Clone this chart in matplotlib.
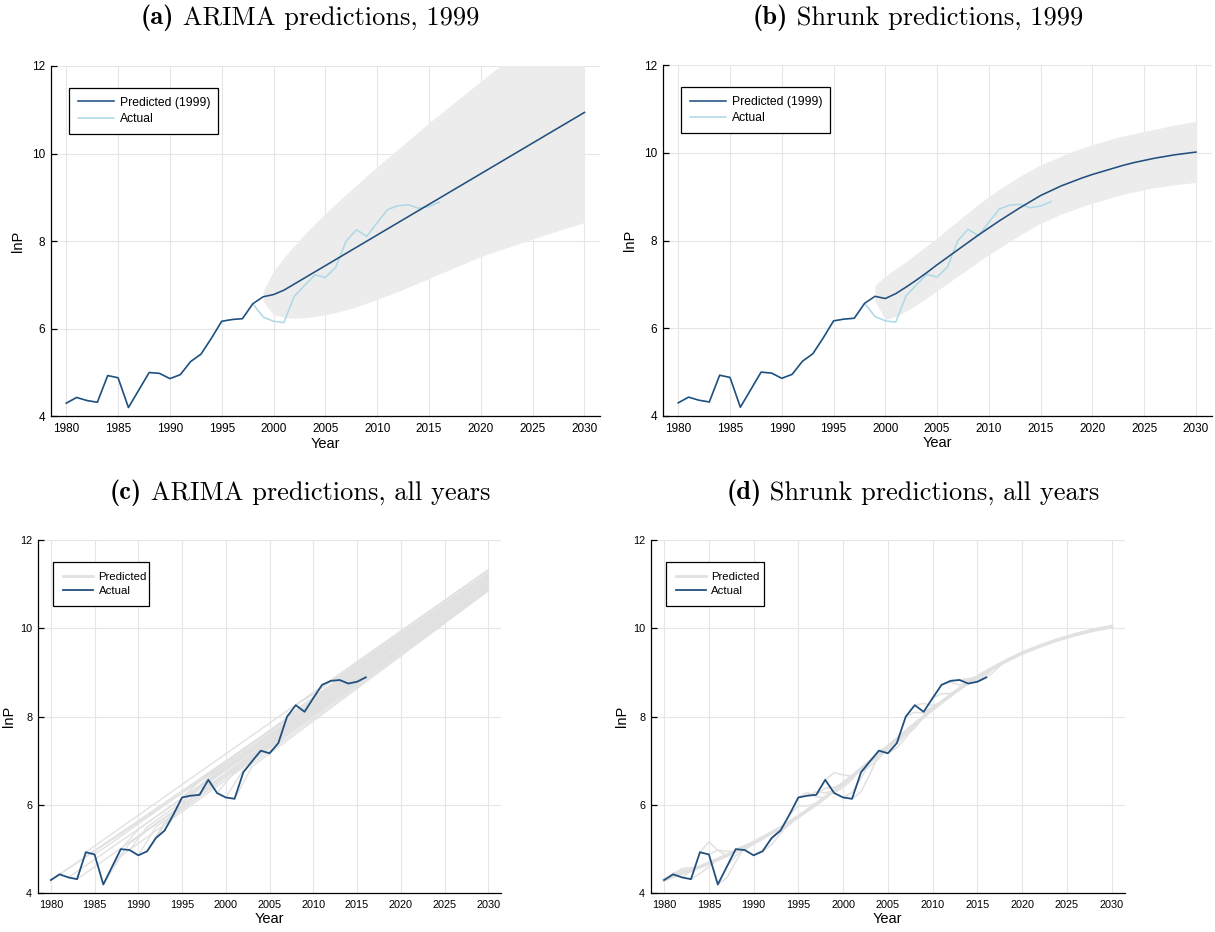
import matplotlib
matplotlib.use("Agg")
import matplotlib.pyplot as plt
import numpy as np

# ---------------------------------------------------------------------------
# Data (log population, lnP)
# ---------------------------------------------------------------------------

YEARS = np.arange(1980, 2017)
ACTUAL = [4.30, 4.43, 4.36, 4.32, 4.93, 4.88, 4.20, 4.60, 5.00, 4.98,
          4.86, 4.95, 5.25, 5.42, 5.78, 6.17, 6.21, 6.23, 6.57, 6.27,
          6.17, 6.14, 6.74, 6.99, 7.23, 7.17, 7.40, 8.00, 8.26, 8.11,
          8.42, 8.72, 8.81, 8.83, 8.75, 8.79, 8.89]

# forecasts made in 1999 (data through 1998)
FC_YEARS = np.arange(1999, 2031)
ARIMA_1999 = [6.73, 6.78, 6.88, 7.02, 7.16, 7.30, 7.44, 7.58, 7.72, 7.86,
              8.00, 8.14, 8.28, 8.42, 8.56, 8.70, 8.84, 8.98, 9.12, 9.26,
              9.40, 9.54, 9.68, 9.82, 9.96, 10.10, 10.24, 10.38, 10.52, 10.66,
              10.80, 10.94]
ARIMA_LO = [6.62, 6.32, 6.26, 6.24, 6.25, 6.28, 6.32, 6.37, 6.43, 6.50,
            6.58, 6.67, 6.76, 6.85, 6.95, 7.05, 7.15, 7.25, 7.35, 7.45,
            7.55, 7.65, 7.73, 7.81, 7.89, 7.97, 8.05, 8.13, 8.20, 8.28,
            8.35, 8.43]
ARIMA_HI = [6.86, 7.32, 7.62, 7.90, 8.16, 8.40, 8.63, 8.85, 9.07, 9.28,
            9.49, 9.70, 9.90, 10.10, 10.30, 10.50, 10.70, 10.89, 11.08, 11.27,
            11.46, 11.65, 11.84, 12.02, 12.21, 12.39, 12.58, 12.76, 12.94, 13.13,
            13.31, 13.49]

SHRUNK_1999 = [6.73, 6.68, 6.79, 6.94, 7.10, 7.27, 7.45, 7.62, 7.79, 7.96,
               8.13, 8.29, 8.45, 8.60, 8.75, 8.89, 9.03, 9.14, 9.25, 9.34,
               9.43, 9.51, 9.58, 9.65, 9.72, 9.78, 9.83, 9.88, 9.92, 9.96,
               9.99, 10.02]
SHRUNK_LO = [6.62, 6.20, 6.27, 6.39, 6.53, 6.69, 6.86, 7.02, 7.19, 7.35,
             7.52, 7.68, 7.83, 7.98, 8.13, 8.26, 8.40, 8.50, 8.61, 8.69,
             8.78, 8.86, 8.92, 8.99, 9.06, 9.11, 9.16, 9.21, 9.24, 9.28,
             9.30, 9.33]
SHRUNK_HI = [6.98, 7.19, 7.36, 7.52, 7.70, 7.88, 8.06, 8.26, 8.45, 8.64,
             8.83, 9.01, 9.17, 9.32, 9.47, 9.60, 9.73, 9.83, 9.93, 10.03,
             10.11, 10.19, 10.26, 10.33, 10.39, 10.44, 10.49, 10.54, 10.59, 10.64,
             10.68, 10.72]

# rolling forecasts, one per origin year
ORIGINS = np.arange(1981, 2017)
# ARIMA: value one year after the origin, and value reached in 2030
ARIMA_STEP = [4.56, 4.70, 4.63, 4.60, 5.21, 5.15, 4.84, 5.13, 5.45, 5.50,
              5.50, 5.61, 5.85, 6.00, 6.26, 6.53, 6.62, 6.69, 6.78, 6.75,
              6.79, 6.87, 7.20, 7.40, 7.60, 7.62, 7.81, 8.30, 8.51, 8.43,
              8.67, 8.90, 8.99, 9.02, 9.02, 9.11]
ARIMA_END = [10.86, 11.05, 10.95, 10.90, 11.33, 11.22, 10.88, 10.98, 11.12, 11.06,
             10.98, 10.96, 11.02, 11.03, 11.10, 11.18, 11.15, 11.10, 10.94, 10.90,
             10.86, 10.85, 10.92, 10.95, 11.00, 10.92, 10.95, 11.25, 11.30, 11.10,
             11.18, 11.25, 11.20, 11.10, 10.98, 10.95]

# Shrunk: first two forecast steps, then the common long-run path
SHRUNK_STEP1 = [4.45, 4.56, 4.50, 4.45, 5.17, 4.98, 4.35, 4.85, 5.08, 5.12,
                4.98, 5.10, 5.40, 5.60, 5.98, 6.28, 6.30, 6.38, 6.73, 6.40,
                6.28, 6.30, 6.88, 7.12, 7.33, 7.30, 7.58, 8.10, 8.30, 8.22,
                8.52, 8.78, 8.84, 8.86, 8.82, 8.88]
SHRUNK_STEP2 = [4.52, 4.58, 4.58, 4.60, 4.97, 4.95, 4.72, 5.00, 5.15, 5.22,
                5.22, 5.35, 5.55, 5.70, 5.98, 6.18, 6.27, 6.40, 6.68, 6.58,
                6.60, 6.70, 7.05, 7.24, 7.43, 7.52, 7.74, 8.08, 8.25, 8.30,
                8.52, 8.72, 8.82, 8.90, 8.95, 9.05]
PATH_YEARS = np.arange(1980, 2031)
SHRUNK_PATH = [4.30, 4.38, 4.46, 4.53, 4.60, 4.68, 4.77, 4.86, 4.95, 5.05,
               5.15, 5.26, 5.37, 5.48, 5.61, 5.74, 5.88, 6.02, 6.17, 6.33,
               6.49, 6.65, 6.82, 6.98, 7.15, 7.32, 7.49, 7.66, 7.83, 8.00,
               8.17, 8.33, 8.48, 8.63, 8.77, 8.90, 9.02, 9.13, 9.24, 9.34,
               9.44, 9.52, 9.60, 9.67, 9.74, 9.80, 9.86, 9.91, 9.96, 10.00,
               10.04]

DARK = "#22507e"
LIGHT = "#add8e6"
GREY = "#e1e1e1"
BAND = "#ececec"

W, H = 1215, 932

plt.rcParams["font.family"] = "Liberation Sans"


def style_axes(ax, tick_size, ylabelpad):
    ax.set_xlim(1978.5, 2031.5)
    ax.set_ylim(4, 12)
    ax.set_xticks(range(1980, 2031, 5))
    ax.set_yticks([4, 6, 8, 10, 12])
    ax.spines[["top", "right"]].set_visible(False)
    for side in ("left", "bottom"):
        ax.spines[side].set_linewidth(0.9)
    ax.tick_params(axis="y", direction="in", length=4, width=0.9,
                   labelsize=tick_size, pad=4)
    ax.tick_params(axis="x", length=0, labelsize=tick_size, pad=5)
    ax.grid(True, color="#e6e6e6", linewidth=0.8)
    ax.set_axisbelow(True)
    ax.set_xlabel("Year", fontsize=10.5, labelpad=1)
    ax.set_ylabel("lnP", fontsize=10.5, labelpad=ylabelpad)


def add_legend(ax, handles, labels, anchor, size, pad, hlen):
    leg = ax.legend(handles, labels, loc="upper left", bbox_to_anchor=anchor,
                    mode="expand", fontsize=size, fancybox=False, framealpha=1,
                    edgecolor="black", handlelength=hlen, handletextpad=0.5,
                    borderpad=pad, labelspacing=0.36, borderaxespad=0)
    leg.get_frame().set_linewidth(0.9)
    return leg


def plot_single_forecast(ax, pred, lo, hi):
    hist_n = 1999 - 1980
    ax.fill_between(FC_YEARS, lo, hi, color=BAND, linewidth=0, zorder=1)
    act, = ax.plot(YEARS, ACTUAL, color=LIGHT, linewidth=1.1, zorder=2)
    path_x = np.concatenate([YEARS[:hist_n], FC_YEARS])
    path_y = np.concatenate([ACTUAL[:hist_n], pred])
    pr, = ax.plot(path_x, path_y, color=DARK, linewidth=1.15, zorder=3)
    style_axes(ax, 8.5, 5)
    add_legend(ax, [pr, act], ["Predicted (1999)", "Actual"],
               (0.0328, 0.8078, 0.2713, 0.1305), 8.7, 0.75, 3.0)


def grey_legend(ax, grey, act, anchor):
    leg = add_legend(ax, [grey, act], ["Predicted", "Actual"], anchor, 8.2, 0.88, 2.6)
    leg.get_lines()[0].set_linewidth(2.0)


def plot_arima_all(ax):
    grey = None
    for i, k in enumerate(ORIGINS):
        i0 = k - 1 - 1980
        xs = [k - 1, k + 1, 2030]
        ys = [ACTUAL[i0], ARIMA_STEP[i], ARIMA_END[i]]
        grey, = ax.plot(xs, ys, color=GREY, linewidth=1.0, zorder=2)
    act, = ax.plot(YEARS, ACTUAL, color=DARK, linewidth=1.3, zorder=3)
    style_axes(ax, 7.8, 3)
    grey_legend(ax, grey, act, (0.0336, 0.8084, 0.2057, 0.1302))


def plot_shrunk_all(ax):
    grey = None
    for i, k in enumerate(ORIGINS):
        i0 = k - 1 - 1980
        tail = PATH_YEARS >= k + 2
        xs = np.concatenate([[k - 1, k, k + 1], PATH_YEARS[tail]])
        ys = np.concatenate([[ACTUAL[i0], SHRUNK_STEP1[i], SHRUNK_STEP2[i]],
                             np.asarray(SHRUNK_PATH)[tail]])
        grey, = ax.plot(xs, ys, color=GREY, linewidth=1.1, zorder=2)
    # overlapping long-run paths form a thicker bundle
    ax.plot(PATH_YEARS, SHRUNK_PATH, color=GREY, linewidth=2.6, zorder=2)
    act, = ax.plot(YEARS, ACTUAL, color=DARK, linewidth=1.3, zorder=3)
    style_axes(ax, 7.8, 3)
    grey_legend(ax, grey, act, (0.0323, 0.8084, 0.2066, 0.1302))


def panel_title(fig, cx, cy, tag, text, size=19):
    """Bold tag plus regular caption, centred as one line at pixel (cx, cy)."""
    renderer = fig.canvas.get_renderer()
    t_tag = fig.text(0, 1 - cy / H, tag, family="cmb10", fontsize=size, va="center")
    t_txt = fig.text(0, 1 - cy / H, " " + text, family="cmr10", fontsize=size,
                     va="center")
    w_tag = t_tag.get_window_extent(renderer).width
    w_txt = t_txt.get_window_extent(renderer).width
    x0 = cx - (w_tag + w_txt) / 2
    t_tag.set_x(x0 / W)
    t_txt.set_x((x0 + w_tag) / W)


fig = plt.figure(figsize=(W / 100, H / 100), dpi=100)

ax_a = fig.add_axes([0.04173, 0.55333, 0.45210, 0.37586])
ax_b = fig.add_axes([0.54543, 0.55365, 0.45169, 0.37629])
ax_c = fig.add_axes([0.03103, 0.04152, 0.38165, 0.37908])
ax_d = fig.add_axes([0.53556, 0.04152, 0.39037, 0.37908])

plot_single_forecast(ax_a, ARIMA_1999, ARIMA_LO, ARIMA_HI)
plot_single_forecast(ax_b, SHRUNK_1999, SHRUNK_LO, SHRUNK_HI)
plot_arima_all(ax_c)
plot_shrunk_all(ax_d)

panel_title(fig, 310, 18, "(a)", "ARIMA predictions, 1999")
panel_title(fig, 918, 18, "(b)", "Shrunk predictions, 1999")
panel_title(fig, 300, 493, "(c)", "ARIMA predictions, all years")
panel_title(fig, 913, 493, "(d)", "Shrunk predictions, all years")

fig.savefig("out.png", dpi=100)
